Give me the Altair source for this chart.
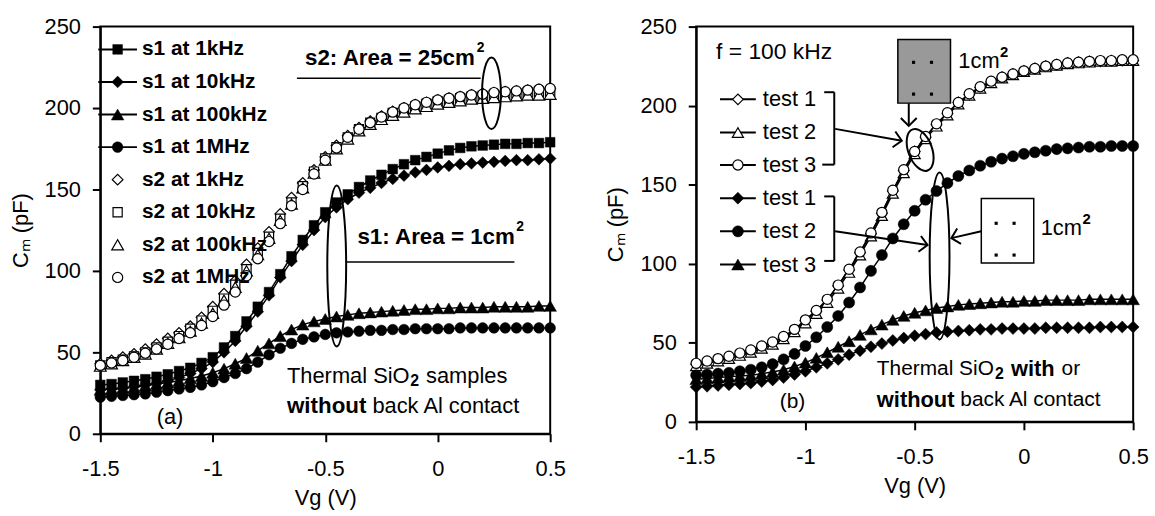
import altair as alt
import pandas as pd

FONT = "Liberation Sans"

# ---------------- data ----------------
VG = [-1.5, -1.45, -1.4, -1.35, -1.3, -1.25, -1.2, -1.15, -1.1, -1.05,
      -1.0, -0.95, -0.9, -0.85, -0.8, -0.75, -0.7, -0.65, -0.6, -0.55,
      -0.5, -0.45, -0.4, -0.35, -0.3, -0.25, -0.2, -0.15, -0.1, -0.05,
      0.0, 0.05, 0.1, 0.15, 0.2, 0.25, 0.3, 0.35, 0.4, 0.45, 0.5]

# panel (a)
S1_1K = [30, 30.5, 31.5, 32.5, 33.5, 35, 36.5, 38.5, 40.5, 43.5,
         47, 53, 60, 69, 78, 87, 98, 109, 119, 128,
         136, 142, 147, 151.5, 155.5, 159, 162.5, 165.5, 168, 170,
         172, 174, 175.5, 176.5, 177, 177.5, 178, 178, 178.5, 178.5, 179]
S1_10K = [27, 27.5, 28, 29, 30, 31, 32.5, 34.5, 37, 40,
          44, 50, 57, 66, 75, 85, 96, 106, 116, 125,
          133, 139, 144, 148, 151, 154, 156.5, 158.5, 160.5, 162,
          163.5, 164.5, 165.5, 166, 166.5, 167, 167.5, 168, 168, 168.5, 169]
S1_100K = [27, 27.5, 28, 28.5, 29.5, 30.5, 31.5, 32.5, 34, 35.5,
           37.5, 40, 43, 46.5, 51, 55.5, 60, 64, 67, 69,
           70.5, 72, 73, 74, 74.5, 75, 75.5, 76, 76.5, 76.5,
           77, 77, 77.5, 77.5, 77.5, 78, 78, 78, 78, 78.5, 78.5]
S1_1M = [22.5, 23, 23.5, 24, 24.5, 25.5, 26.5, 27.5, 28.5, 30,
         32, 34.5, 37, 40, 44, 48.5, 52.5, 55.5, 58, 59.5,
         61, 62, 62.5, 63, 63.5, 63.5, 64, 64, 64.5, 64.5,
         64.5, 64.5, 65, 65, 65, 65, 65, 65, 65, 65, 65]
S2_1K = [43, 45, 47, 49, 52, 55, 58.5, 62, 66, 71.5,
         78, 86, 94, 104, 114, 124, 135, 145, 154, 162,
         170, 177, 183, 188, 192, 195, 198, 200, 202, 203.5,
         205, 206, 207, 208, 209, 209.5, 210, 210.5, 211, 211.5, 212]
S2_10K = [42, 44, 45.5, 47.5, 50, 53, 56.5, 60, 64.5, 69.5,
          75.5, 83, 91.5, 101, 111, 121, 132, 142, 152, 161,
          169, 176, 182, 187, 191, 194, 197, 199, 201, 202.5,
          204, 205, 206, 207, 207.5, 208, 208.5, 209, 209.5, 210, 210]
S2_100K = [41.5, 43, 45, 47, 49, 52, 55.5, 59, 63, 68,
           74, 82, 90, 100, 110, 120, 131, 141, 151, 160,
           168, 175, 181, 186, 190, 193, 195.5, 197.5, 199.5, 201,
           202.5, 203.5, 204.5, 205.5, 206, 206.5, 207, 207.5, 208, 208, 208.5]
S2_1M = [42, 43.5, 45, 47, 49.5, 52, 55, 58.5, 62, 66.5,
         72, 79, 87, 97, 107.5, 118, 129, 140, 150, 159.5,
         168, 175.5, 182, 187, 191, 194.5, 197.5, 200, 202, 203.5,
         205, 206, 207, 208, 208.5, 209.5, 210, 210.5, 211, 211.5, 212]

# panel (b)
OPEN_T1 = [36.5, 38, 39.5, 41, 43, 45, 47.5, 50, 53.5, 58,
           64, 70, 77, 86, 96, 107, 119, 132, 146, 159,
           171, 180, 188, 195, 202, 207, 211.5, 215, 218, 220,
           222, 223.5, 225, 226, 227, 227.5, 228, 228, 228.5, 228.5, 228.5]
OPEN_T2 = [35.5, 37, 38.5, 40, 42, 44, 46.5, 49, 52.5, 57,
           62.5, 68.5, 75.5, 84.5, 94.5, 105.5, 117.5, 130.5, 144.5, 157.5,
           169.5, 179, 187, 194, 201, 206.5, 211, 214.5, 217.5, 219.5,
           221.5, 223, 224.5, 225.5, 226.5, 227, 227.5, 228, 228, 228.5, 228.5]
OPEN_T3 = [37, 38.5, 40, 41.5, 43.5, 45.5, 48, 50.5, 54, 58.5,
           64.5, 70.5, 77.5, 86.5, 96.5, 107.5, 119.5, 132.5, 146.5, 159.5,
           171, 180.5, 188.5, 195.5, 202, 207.5, 212, 215.5, 218, 220,
           222, 223.5, 225, 226, 227, 227.5, 228, 228.5, 228.5, 229, 229]
FILL_T1 = [22, 22.5, 23, 23.5, 24, 24.5, 25.5, 26.5, 28, 30,
           32, 34.5, 37, 39.5, 42.5, 45, 47.5, 49.5, 51.5, 53,
           54.5, 55.5, 56.5, 57, 57.5, 58, 58.5, 58.5, 59, 59,
           59, 59, 59.5, 59.5, 59.5, 59.5, 59.5, 60, 60, 60, 60]
FILL_T2 = [29.5, 30, 30.5, 31, 32, 33, 34.5, 36.5, 39.5, 43,
           48, 53.5, 60, 67, 75.5, 85, 95.5, 105.5, 116, 125,
           133.5, 140.5, 146, 151, 155.5, 159, 162, 164.5, 166.5, 168,
           169.5, 170.5, 171.5, 172.5, 173, 173.5, 174, 174, 174.5, 174.5, 174.5]
FILL_T3 = [27, 27.5, 28, 28.5, 29, 29.5, 30.5, 31.5, 33, 35,
           37.5, 40.5, 44, 47.5, 51, 55, 58.5, 61.5, 64.5, 67,
           69, 70.5, 72, 73, 74, 74.5, 75, 75.5, 76, 76,
           76.5, 76.5, 77, 77, 77, 77, 77.5, 77.5, 77.5, 77.5, 77.5]

LABELS_A = ["s1 at 1kHz", "s1 at 10kHz", "s1 at 100kHz", "s1 at 1MHz",
            "s2 at 1kHz", "s2 at 10kHz", "s2 at 100kHz", "s2 at 1MHz"]
LABELS_B = ["test 1", "test 2", "test 3", "test 1", "test 2", "test 3"]
X_TICKS = [-1.5, -1, -0.5, 0, 0.5]
Y_TICKS = [0, 50, 100, 150, 200, 250]

SERIES_A = [S1_1K, S1_10K, S1_100K, S1_1M, S2_1K, S2_10K, S2_100K, S2_1M]
SERIES_B = [OPEN_T1, OPEN_T2, OPEN_T3, FILL_T1, FILL_T2, FILL_T3]
for s in SERIES_A + SERIES_B:
    assert len(s) == len(VG)

# ---------------- styles ----------------
# (shape, filled, size, with line)
STYLE_A = [("square", True, 95, True), ("diamond", True, 140, True),
           ("triangle-up", True, 160, True), ("circle", True, 115, True),
           ("diamond", False, 115, False), ("square", False, 85, False),
           ("triangle-up", False, 140, False), ("circle", False, 105, False)]
STYLE_B = [("diamond", False, 115, True), ("triangle-up", False, 125, True),
           ("circle", False, 105, True), ("diamond", True, 145, True),
           ("circle", True, 125, True), ("triangle-up", True, 160, True)]


def make_axes():
    xa = alt.Axis(values=X_TICKS, labelExpr="'' + datum.value", title="Vg (V)",
                  grid=False, tickSize=8, tickWidth=2, tickColor="black",
                  domainWidth=2, domainColor="black", labelFont=FONT,
                  labelFontSize=22, labelColor="black", labelPadding=17,
                  titleFont=FONT, titleFontSize=22, titleFontWeight="normal",
                  titleColor="black", titlePadding=8, labelFlush=False,
                  labelOverlap=False)
    ya = alt.Axis(values=Y_TICKS, title="Cₘ (pF)", grid=False, tickSize=8,
                  tickWidth=2, tickColor="black", domainWidth=2,
                  domainColor="black", labelFont=FONT, labelFontSize=22,
                  labelColor="black", labelPadding=12, titleFont=FONT,
                  titleFontSize=22, titleFontWeight="normal",
                  titleColor="black", titlePadding=12, labelFlush=False,
                  labelOverlap=False)
    return xa, ya


XA, YA = make_axes()
XS = alt.Scale(domain=[-1.5, 0.5], nice=False, zero=False)
YS = alt.Scale(domain=[0, 250], nice=False, zero=True)


def xy(ch):
    return ch.encode(x=alt.X("x:Q", scale=XS, axis=XA),
                     y=alt.Y("y:Q", scale=YS, axis=YA))


def point_mark(shape, filled, size, sw_open=1.2):
    return dict(shape=shape, size=size, filled=True,
                fill="black" if filled else "white", stroke="black",
                strokeWidth=0.5 if filled else sw_open, opacity=1)


def series_layers(vals, style):
    shape, filled, size, line = style
    df = pd.DataFrame({"x": VG, "y": vals})
    out = []
    if line:
        out.append(xy(alt.Chart(df).mark_line(color="black", strokeWidth=1.5)))
    out.append(xy(alt.Chart(df).mark_point(**point_mark(shape, filled, size))))
    return out


def texts(rows, **style):
    df = pd.DataFrame(rows, columns=["x", "y", "t"])
    return xy(alt.Chart(df).mark_text(font=FONT, color="black", **style)).encode(
        text="t:N")


def segs(rows, width=2):
    df = pd.DataFrame(rows, columns=["x", "y", "x2", "y2"])
    return xy(alt.Chart(df).mark_rule(color="black", strokeWidth=width)).encode(
        x2="x2:Q", y2="y2:Q")


def ellipse(cx, cy, rx, ry, angle=0):
    a = rx / ry
    k = 0.5523
    p = (f"M0,-1C{k*a:.4f},-1 {a:.4f},{-k} {a:.4f},0"
         f"C{a:.4f},{k} {k*a:.4f},1 0,1"
         f"C{-k*a:.4f},1 {-a:.4f},{k} {-a:.4f},0"
         f"C{-a:.4f},{-k} {-k*a:.4f},-1 0,-1Z")
    df = pd.DataFrame({"x": [cx], "y": [cy]})
    return xy(alt.Chart(df).mark_point(shape=p, size=(2 * ry) ** 2, filled=False,
                                       stroke="black", strokeWidth=2, opacity=1,
                                       angle=angle))


def arrowheads(rows):
    df = pd.DataFrame(rows, columns=["x", "y", "a"])
    return xy(alt.Chart(df).mark_point(shape="M-1,-1L0,0L-1,1", size=256,
                                       filled=False, stroke="black",
                                       strokeWidth=2, opacity=1)).encode(
        angle=alt.Angle("a:Q", scale=None))


def box(x1, x2, y1, y2, fill):
    df = pd.DataFrame({"x": [x1], "x2": [x2], "y": [y1], "y2": [y2]})
    return xy(alt.Chart(df).mark_rect(fill=fill, stroke="black",
                                      strokeWidth=1.5)).encode(x2="x2:Q", y2="y2:Q")


def dots(rows):
    df = pd.DataFrame(rows, columns=["x", "y"])
    return xy(alt.Chart(df).mark_point(shape="square", size=10, filled=True,
                                       color="black", opacity=1))


# ---------------- panel (a) ----------------
layers_a = []
for vals, st in zip(SERIES_A, STYLE_A):
    layers_a += series_layers(vals, st)

LEG_Y_A = [236, 216, 196, 176, 156, 136, 116, 96]
layers_a.append(segs([(-1.509, y, -1.337, y) for y in LEG_Y_A[:4]], width=2))
for yv, st in zip(LEG_Y_A, STYLE_A):
    shape, filled, size, _ = st
    df = pd.DataFrame({"x": [-1.423], "y": [yv]})
    layers_a.append(xy(alt.Chart(df).mark_point(**point_mark(shape, filled, size))))
layers_a.append(texts([(-1.315, y, t) for y, t in zip(LEG_Y_A, LABELS_A)],
                      fontSize=21, fontWeight="bold", align="left", baseline="middle"))

layers_a.append(texts([(-0.59, 230.5, "s2: Area = 25cm"), (-0.357, 120.7, "s1: Area = 1cm")],
                      fontSize=22.5, fontWeight="bold", align="left", baseline="middle"))
layers_a.append(texts([(-0.59, 230.5, "2")], fontSize=14, fontWeight="bold",
                      align="left", baseline="middle", dx=173, dy=-10))
layers_a.append(texts([(-0.357, 120.7, "2")], fontSize=14, fontWeight="bold",
                      align="left", baseline="middle", dx=160, dy=-10))
layers_a.append(segs([(-0.626, 218.3, 0.191, 218.3), (-0.405, 105.5, 0.341, 105.5)], width=1.5))
layers_a.append(ellipse(0.239, 209.1, 9.5, 36))
layers_a.append(ellipse(-0.449, 103, 9.5, 81))
layers_a.append(texts([(-0.67, 35.4, "Thermal SiO")], fontSize=22,
                      align="left", baseline="middle"))
layers_a.append(texts([(-0.67, 35.4, "2")], fontSize=16, fontWeight="bold",
                      align="left", baseline="middle", dx=124, dy=5))
layers_a.append(texts([(-0.67, 35.4, "samples")], fontSize=22,
                      align="left", baseline="middle", dx=140))
layers_a.append(texts([(-0.67, 17.1, "without")], fontSize=22.5, fontWeight="bold",
                      align="left", baseline="middle"))
layers_a.append(texts([(-0.67, 17.1, "back Al contact")], fontSize=22,
                      align="left", baseline="middle", dx=86))
layers_a.append(texts([(-1.19, 10.4, "(a)")], fontSize=22,
                      align="center", baseline="middle"))

panel_a = alt.layer(*layers_a).properties(width=453, height=410)

# ---------------- panel (b) ----------------
layers_b = []
for vals, st in zip(SERIES_B, STYLE_B):
    layers_b += series_layers(vals, st)

LEG_Y_B = [204, 183, 162.5, 141.5, 120.5, 99.5]
layers_b.append(segs([(-1.391, y, -1.227, y) for y in LEG_Y_B], width=2))
for yv, st in zip(LEG_Y_B, STYLE_B):
    shape, filled, size, _ = st
    df = pd.DataFrame({"x": [-1.309], "y": [yv]})
    layers_b.append(xy(alt.Chart(df).mark_point(**point_mark(shape, filled, size))))
layers_b.append(texts([(-1.195, y, t) for y, t in zip(LEG_Y_B, LABELS_B)],
                      fontSize=22, align="left", baseline="middle"))
layers_b.append(texts([(-1.409, 233.7, "f = 100 kHz")], fontSize=23,
                      align="left", baseline="middle"))

# brackets and arrows
layers_b.append(segs([
    (-0.914, 208.5, -0.868, 208.5), (-0.868, 208.5, -0.868, 162.7),
    (-0.923, 162.7, -0.868, 162.7),
    (-0.914, 142.6, -0.868, 142.6), (-0.868, 142.6, -0.868, 101.8),
    (-0.914, 101.8, -0.868, 101.8),
    (-0.864, 185.3, -0.559, 177.8),
    (-0.864, 120.6, -0.441, 111.8),
    (-0.527, 201.6, -0.527, 187.2),
    (-0.195, 120.6, -0.332, 116.2),
], width=2))
layers_b.append(arrowheads([(-0.559, 177.8, 10), (-0.441, 111.8, 9),
                            (-0.527, 187.2, 90), (-0.332, 116.2, 166)]))
layers_b.append(ellipse(-0.475, 172, 12, 22, 340))
layers_b.append(ellipse(-0.386, 104.9, 10, 84))
layers_b.append(box(-0.577, -0.336, 241.8, 201.6, "#999999"))
layers_b.append(dots([(-0.505, 227.4), (-0.423, 227.4), (-0.505, 207.3), (-0.423, 207.3)]))
layers_b.append(box(-0.195, 0.045, 141.3, 100.5, "white"))
layers_b.append(dots([(-0.127, 125.6), (-0.045, 125.6), (-0.127, 105.5), (-0.045, 105.5)]))
layers_b.append(texts([(-0.3, 228, "1cm"), (0.077, 122.5, "1cm")], fontSize=22,
                      align="left", baseline="middle"))
layers_b.append(texts([(-0.3, 228, "2"), (0.077, 122.5, "2")], fontSize=15,
                      fontWeight="bold", align="left", baseline="middle", dx=42, dy=-9))

layers_b.append(texts([(-0.673, 33.3, "Thermal SiO")], fontSize=21,
                      align="left", baseline="middle"))
layers_b.append(texts([(-0.673, 33.3, "2")], fontSize=16, fontWeight="bold",
                      align="left", baseline="middle", dx=119, dy=5))
layers_b.append(texts([(-0.673, 33.3, "with")], fontSize=22, fontWeight="bold",
                      align="left", baseline="middle", dx=135))
layers_b.append(texts([(-0.673, 33.3, "or")], fontSize=21,
                      align="left", baseline="middle", dx=186))
layers_b.append(texts([(-0.673, 13.8, "without")], fontSize=22, fontWeight="bold",
                      align="left", baseline="middle"))
layers_b.append(texts([(-0.673, 13.8, "back Al contact")], fontSize=21,
                      align="left", baseline="middle", dx=84))
layers_b.append(texts([(-1.059, 12.6, "(b)")], fontSize=21,
                      align="center", baseline="middle"))

panel_b = alt.layer(*layers_b).properties(width=440, height=398)

chart = alt.hconcat(panel_a, panel_b, spacing=37).properties(
    padding={"left": 8, "top": 13, "right": 5, "bottom": 5},
    background="white",
).configure_view(stroke="black", strokeWidth=2)

chart.save("out.html", embed_options={"renderer": "svg", "actions": False})
